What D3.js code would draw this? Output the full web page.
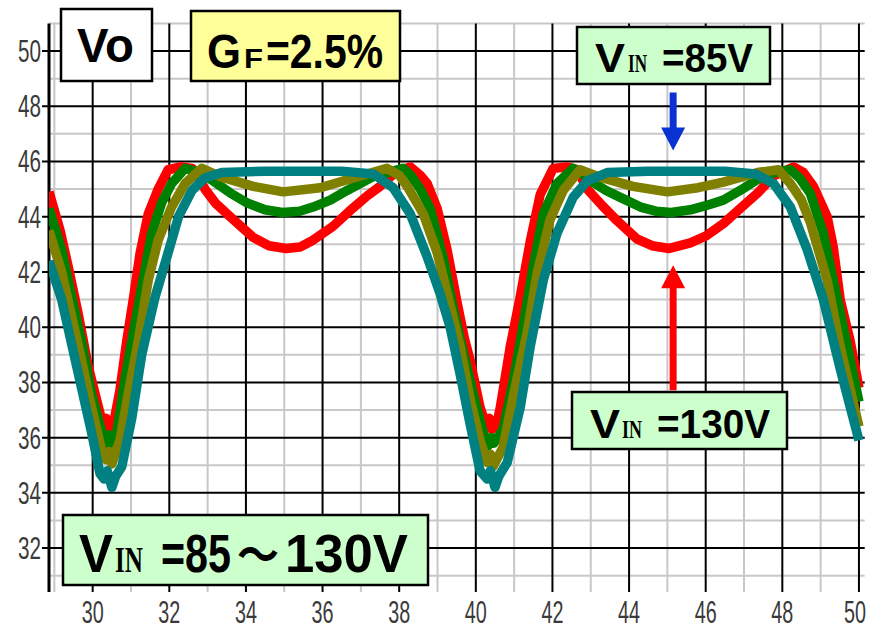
<!DOCTYPE html>
<html lang="ja">
<head>
<meta charset="UTF-8">
<title>Vo waveform, GF=2.5%</title>
<script src="https://d3js.org/d3.v7.min.js"></script>
<style>
  body { margin: 0; background: #fff; }
  svg { display: block; }
  .tick-label { font-family: "Liberation Sans Narrow", "Liberation Sans", Arial, sans-serif; font-size: 31px; fill: #3a3a3a; }
</style>
</head>
<body>
<div id="chart"></div>
<script>
// axis ticks (major = black grid, minor = gray grid)
const xTicks = [30, 32, 34, 36, 38, 40, 42, 44, 46, 48, 50];
const yTicks = [32, 34, 36, 38, 40, 42, 44, 46, 48, 50];
const xMinor = [29, 31, 33, 35, 37, 39, 41, 43, 45, 47, 49];
const yMinor = [31, 33, 35, 37, 39, 41, 43, 45, 47, 49, 51];

// Vo traces: [time, volts]
// red = VIN 130V
const red = [[28.86,44.9],[29.15,43.5],[29.36,42.2],[29.62,40.5],[29.88,38.6],[30.15,37.1],[30.28,36.4],[30.35,36.7],[30.42,36.3],[30.53,36.4],[30.71,37.7],[30.89,39.5],[31.06,41.0],[31.24,42.7],[31.45,44.1],[31.71,45.0],[31.97,45.7],[32.3,45.8],[32.6,45.75],[32.93,45.0],[33.2,44.5],[33.59,44.0],[34.19,43.25],[34.6,42.95],[35.05,42.85],[35.41,42.9],[35.75,43.15],[36.27,43.65],[36.7,44.2],[37.16,44.75],[37.5,45.1],[37.9,45.6],[38.29,45.8],[38.55,45.5],[38.73,45.2],[38.99,44.3],[39.25,42.8],[39.51,40.9],[39.7,39.6],[39.85,38.8],[40.11,37.1],[40.28,36.4],[40.35,36.7],[40.42,36.3],[40.55,36.5],[40.64,37.1],[40.9,39.3],[41.16,41.1],[41.42,43.1],[41.68,44.8],[42.02,45.75],[42.4,45.8],[42.65,45.7],[42.91,45.0],[43.3,44.4],[43.69,43.85],[44.2,43.2],[44.6,42.95],[45.05,42.85],[45.6,43.05],[46.0,43.3],[46.46,43.75],[46.9,44.3],[47.35,44.85],[47.8,45.5],[48.29,45.8],[48.55,45.6],[48.81,45.1],[49.17,44.0],[49.33,42.9],[49.51,41.0],[49.77,39.5],[50.0,37.8]];
// green
const green = [[28.86,44.3],[29.19,42.8],[29.45,41.1],[29.71,39.5],[29.97,37.6],[30.24,36.2],[30.35,35.7],[30.42,36.1],[30.5,35.8],[30.63,36.2],[30.84,38.1],[31.06,39.8],[31.28,41.45],[31.54,43.4],[31.8,44.5],[32.06,45.2],[32.41,45.75],[32.8,45.6],[33.14,45.3],[33.6,44.85],[34.03,44.5],[34.5,44.25],[34.95,44.15],[35.4,44.2],[35.75,44.35],[36.2,44.6],[36.64,44.95],[37.32,45.45],[38.1,45.75],[38.3,45.5],[38.55,45.0],[38.81,44.3],[39.15,42.5],[39.41,40.7],[39.59,39.6],[39.93,37.6],[40.19,36.2],[40.32,35.7],[40.4,36.0],[40.47,35.8],[40.71,36.3],[40.97,38.0],[41.24,40.1],[41.5,42.2],[41.76,44.1],[42.12,45.2],[42.54,45.75],[42.75,45.6],[42.99,45.3],[43.4,44.95],[43.77,44.7],[44.3,44.35],[44.7,44.2],[45.1,44.15],[45.6,44.25],[46.0,44.4],[46.46,44.6],[46.9,44.95],[47.35,45.35],[47.8,45.6],[48.21,45.7],[48.45,45.4],[48.73,44.85],[49.07,43.4],[49.33,41.7],[49.7,39.3],[50.0,37.3]];
// olive
const olive = [[28.86,43.5],[29.19,42.0],[29.45,40.4],[29.71,38.8],[29.97,37.1],[30.24,35.5],[30.35,35.2],[30.42,35.5],[30.5,35.05],[30.71,35.9],[30.93,37.6],[31.19,39.5],[31.45,41.7],[31.71,43.15],[32.06,44.35],[32.41,45.2],[32.85,45.75],[33.33,45.45],[34.19,45.1],[34.97,44.9],[35.94,45.05],[36.8,45.4],[37.68,45.75],[38.0,45.5],[38.21,45.1],[38.63,44.1],[38.99,42.7],[39.33,40.8],[39.59,39.3],[39.85,37.4],[40.11,35.9],[40.3,35.1],[40.38,35.4],[40.45,34.95],[40.71,35.65],[40.97,37.45],[41.34,39.8],[41.6,41.95],[41.94,43.9],[42.28,44.95],[42.72,45.7],[43.2,45.45],[44.1,45.1],[45.0,44.9],[45.8,45.05],[46.46,45.25],[47.35,45.6],[47.9,45.7],[48.21,45.2],[48.5,44.6],[48.73,43.8],[49.17,41.7],[49.51,39.3],[50.0,36.4]];
// teal = VIN 85V
const teal = [[28.86,42.4],[29.19,41.0],[29.45,39.4],[29.71,37.8],[29.97,36.2],[30.19,34.7],[30.3,34.5],[30.38,34.8],[30.5,34.2],[30.6,34.6],[30.76,34.95],[31.02,36.7],[31.28,39.0],[31.63,41.1],[31.97,42.7],[32.24,44.0],[32.59,44.95],[32.93,45.4],[33.37,45.6],[34.5,45.65],[35.5,45.65],[36.5,45.65],[37.32,45.55],[37.84,45.05],[38.29,44.1],[38.73,42.55],[39.07,41.2],[39.33,40.0],[39.59,38.3],[39.85,36.5],[40.11,34.8],[40.3,34.5],[40.38,34.8],[40.5,34.2],[40.6,34.6],[40.82,35.1],[41.16,37.1],[41.42,39.3],[41.76,41.7],[42.12,43.4],[42.54,44.7],[42.91,45.3],[43.43,45.6],[44.5,45.65],[45.5,45.65],[46.5,45.65],[47.3,45.55],[47.77,45.2],[48.21,44.35],[48.65,42.8],[49.07,41.0],[49.51,38.5],[50.0,35.9]];

// arrows (time, from volts, to volts)
const arrowBlue = {t: 45.15, from: 48.5, to: 46.4, color: "#0a32d2"};
const arrowRed = {t: 45.15, from: 37.72, to: 42.24, color: "#ff0000"};

const W = 869, H = 636;
const svg = d3.select("#chart").append("svg").attr("width", W).attr("height", H);

const x = d3.scaleLinear().domain([28.86, 50.15]).range([49, 864.7]);
const y = d3.scaleLinear().domain([30.41, 51]).range([592, 23.4]);
const [x0, x1] = x.range();
const [yb, yt] = y.range();

// minor gray grid
svg.append("g").selectAll("line").data(xMinor).join("line")
   .attr("x1", d => x(d)).attr("x2", d => x(d)).attr("y1", yt).attr("y2", yb)
   .attr("stroke", "#c8c8c8").attr("stroke-width", 2);
svg.append("g").selectAll("line").data(yMinor).join("line")
   .attr("x1", x0).attr("x2", x1).attr("y1", d => y(d)).attr("y2", d => y(d))
   .attr("stroke", "#c8c8c8").attr("stroke-width", 2);

// major black grid
svg.append("g").selectAll("line").data(xTicks).join("line")
   .attr("x1", d => x(d)).attr("x2", d => x(d)).attr("y1", yt).attr("y2", yb)
   .attr("stroke", "#000").attr("stroke-width", 2);
svg.append("g").selectAll("line").data(yTicks).join("line")
   .attr("x1", x0 - 7).attr("x2", x1).attr("y1", d => y(d)).attr("y2", d => y(d))
   .attr("stroke", "#000").attr("stroke-width", 2);

// left axis line
svg.append("line").attr("x1", x0).attr("x2", x0).attr("y1", yt).attr("y2", yb)
   .attr("stroke", "#000").attr("stroke-width", 3);

// tick labels
svg.append("g").selectAll("text").data(yTicks).join("text")
   .attr("class", "tick-label")
   .attr("x", x0 - 8).attr("y", d => y(d) + 11)
   .attr("text-anchor", "end")
   .attr("textLength", 23).attr("lengthAdjust", "spacingAndGlyphs")
   .text(d => d);
// the last label sits against the right edge, as in the original
svg.append("g").selectAll("text").data(xTicks).join("text")
   .attr("class", "tick-label")
   .attr("x", d => Math.min(x(d), W - 14)).attr("y", 623)
   .attr("text-anchor", "middle")
   .attr("textLength", 22).attr("lengthAdjust", "spacingAndGlyphs")
   .text(d => d);

// traces
svg.append("clipPath").attr("id", "plot")
   .append("rect").attr("x", x0).attr("y", yt).attr("width", x1 - x0).attr("height", yb - yt);
const line = d3.line().x(d => x(d[0])).y(d => y(d[1]));
const traces = [[red, "#ff0000"], [green, "#008000"], [olive, "#808000"], [teal, "#008080"]];
svg.append("g").attr("clip-path", "url(#plot)")
   .selectAll("path").data(traces).join("path")
   .attr("d", d => line(d[0]))
   .attr("fill", "none")
   .attr("stroke", d => d[1])
   .attr("stroke-width", 9.5)
   .attr("stroke-linejoin", "round");

// arrows
function arrow(a) {
    const ax = x(a.t), ys = y(a.from), ye = y(a.to);
    const dir = ye > ys ? 1 : -1, hl = 23, hw = 12, sw = 3.5;
    const hb = ye - dir * hl;
    const p = d3.path();
    p.moveTo(ax - sw, ys); p.lineTo(ax - sw, hb); p.lineTo(ax - hw, hb);
    p.lineTo(ax, ye); p.lineTo(ax + hw, hb); p.lineTo(ax + sw, hb);
    p.lineTo(ax + sw, ys); p.closePath();
    svg.append("path").attr("d", p.toString()).attr("fill", a.color);
}
arrow(arrowBlue);
arrow(arrowRed);

// label boxes: text segments are placed one by one
const sans = '"Liberation Sans", Arial, sans-serif';
const serif = '"Liberation Serif", "DejaVu Serif", serif';
const cjk = '"Noto Sans CJK JP", sans-serif';
function box(r, fill, base, segs) {
    svg.append("rect").attr("x", r[0]).attr("y", r[1]).attr("width", r[2]).attr("height", r[3])
       .attr("fill", fill).attr("stroke", "#000").attr("stroke-width", 2.5);
    segs.forEach(s => {
        svg.append("text")
           .attr("x", s.x).attr("y", base)
           .attr("font-family", s.f || sans).attr("font-weight", "bold")
           .attr("font-size", s.fs)
           .attr("textLength", s.w).attr("lengthAdjust", "spacingAndGlyphs")
           .attr("fill", "#000")
           .text(s.t);
    });
}
box([61, 9, 91, 72], "#ffffff", 62, [{t: "Vo", x: 77, w: 57, fs: 48}]);
box([191, 11, 209, 70], "#ffff99", 68, [
    {t: "G", x: 207, w: 34, fs: 48},
    {t: "F", x: 244, w: 19, fs: 28},
    {t: "=2.5%", x: 266, w: 117, fs: 48}
]);
box([577, 27, 193, 57], "#ccffcc", 72, [
    {t: "V", x: 595, w: 30, fs: 40},
    {t: "IN", x: 628, w: 19, fs: 26, f: serif},
    {t: "=85V", x: 662, w: 91, fs: 40}
]);
box([572, 392, 215, 57], "#ccffcc", 438, [
    {t: "V", x: 590, w: 30, fs: 40},
    {t: "IN", x: 622, w: 20, fs: 26, f: serif},
    {t: "=130V", x: 657, w: 113, fs: 40}
]);
box([63, 515, 365, 70], "#ccffcc", 572, [
    {t: "V", x: 79, w: 34, fs: 54},
    {t: "IN", x: 115, w: 28, fs: 35, f: serif},
    {t: "=85", x: 161, w: 70, fs: 54},
    {t: "～", x: 237, w: 42, fs: 48, f: cjk},
    {t: "130V", x: 285, w: 123, fs: 54}
]);
</script>
</body>
</html>
